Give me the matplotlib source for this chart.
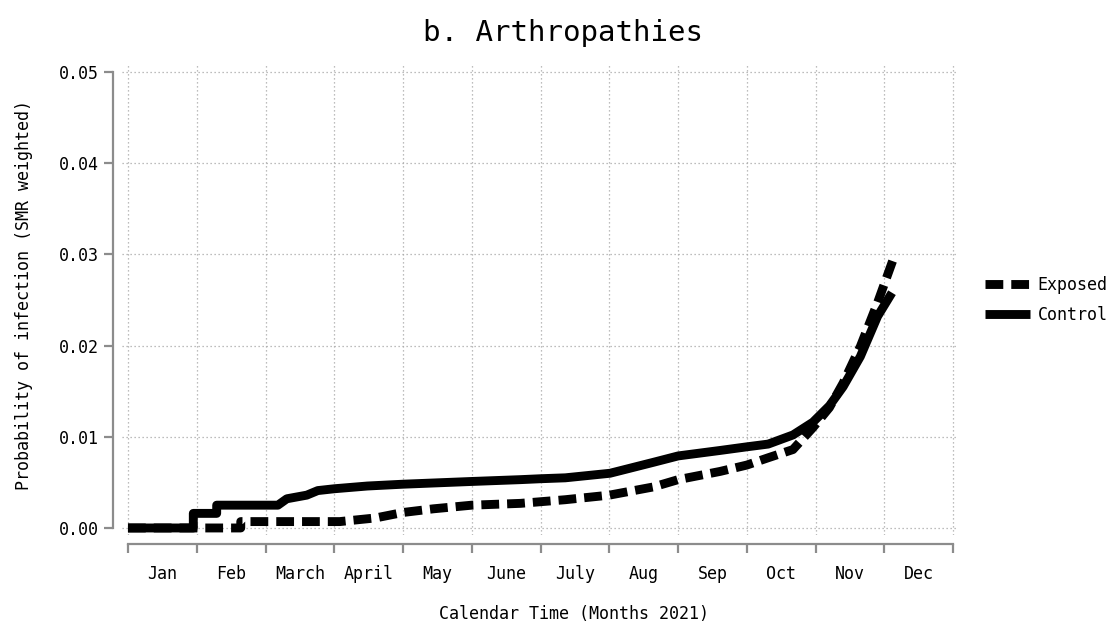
"""Cumulative probability of infection, exposed vs control (arthropathies)."""

import matplotlib
matplotlib.use("Agg")
import matplotlib.pyplot as plt
from matplotlib.lines import Line2D

# month positions (0 = 1 Jan, 12 = end Dec)
MONTHS = ["Jan", "Feb", "March", "April", "May", "June",
          "July", "Aug", "Sep", "Oct", "Nov", "Dec"]

control_x = [0.0, 0.95, 0.95, 1.29, 1.29, 2.18, 2.31, 2.6, 2.76, 3.0, 3.48,
             4.0, 5.0, 5.71, 6.0, 6.36, 7.01, 7.64, 8.0, 8.61, 9.0, 9.31,
             9.67, 9.96, 10.2, 10.4, 10.65, 10.9, 11.11]
control_y = [0.0, 0.0, 0.0016, 0.0016, 0.0025, 0.0025, 0.0032, 0.0036, 0.0041,
             0.0043, 0.0046, 0.0048, 0.0051, 0.0053, 0.0054, 0.0055, 0.0060,
             0.0072, 0.0079, 0.0085, 0.0089, 0.0092, 0.0102, 0.0116, 0.0134,
             0.0155, 0.0188, 0.0232, 0.0258]

exposed_x = [0.0, 1.64, 1.64, 3.08, 3.6, 4.0, 4.44, 5.0, 5.71, 6.36, 7.0,
             7.64, 8.0, 8.61, 9.0, 9.31, 9.67, 9.96, 10.2, 10.4, 10.65, 10.9,
             11.12]
exposed_y = [0.0, 0.0, 0.0007, 0.0007, 0.0011, 0.0017, 0.0021, 0.0025, 0.0027,
             0.0031, 0.0036, 0.0045, 0.0053, 0.0062, 0.0069, 0.0077, 0.0086,
             0.0110, 0.0132, 0.0159, 0.0199, 0.0247, 0.0293]

Y_TICKS = [0.00, 0.01, 0.02, 0.03, 0.04, 0.05]

FONT = "DejaVu Sans Mono"
GREY = "#8c8c8c"


def main():
    plt.rcParams["font.family"] = FONT
    fig = plt.figure(figsize=(11.07, 6.21), dpi=100)
    ax = fig.add_axes([0.1102, 0.1385, 0.7552, 0.7568])

    lw = 6.4
    dash = (0, (2.0, 0.9))
    # snap off so the two lines overlap exactly along the zero baseline
    ax.plot(exposed_x, exposed_y, color="black", lw=lw, linestyle=dash,
            solid_capstyle="butt", dash_capstyle="butt", label="Exposed",
            zorder=2, snap=False, clip_on=False)
    ax.plot(control_x, control_y, color="black", lw=lw,
            solid_capstyle="butt", label="Control", zorder=3, snap=False,
            clip_on=False)

    ax.set_xlim(-0.087, 12.07)
    ax.set_ylim(-0.00077, 0.05077)

    # spines offset SAS-style
    for side in ("top", "right"):
        ax.spines[side].set_visible(False)
    for side in ("left", "bottom"):
        ax.spines[side].set_position(("outward", 6.5))
        ax.spines[side].set_color(GREY)
        ax.spines[side].set_linewidth(1.6)
    ax.spines["left"].set_bounds(0, 0.05)
    ax.spines["bottom"].set_bounds(0, 12)

    ax.set_xticks(range(13))
    ax.set_xticklabels([])
    ax.set_xticks([m + 0.5 for m in range(12)], minor=True)
    ax.set_xticklabels(MONTHS, minor=True, fontsize=12)
    ax.tick_params(axis="x", which="major", length=6.5, width=1.6,
                   color=GREY, direction="out")
    ax.tick_params(axis="x", which="minor", length=0, pad=15)

    ax.set_yticks(Y_TICKS)
    ax.set_yticklabels([f"{v:.2f}" for v in Y_TICKS], fontsize=12)
    ax.tick_params(axis="y", length=6.5, width=1.6, color=GREY,
                   direction="out", pad=4)

    ax.grid(True, which="major", color="#a8a8a8", lw=0.9,
            linestyle=(0, (1, 2.2)), zorder=0)
    ax.set_axisbelow(True)

    ax.set_xlabel("Calendar Time (Months 2021)", fontsize=12)
    ax.xaxis.set_label_coords(0.541, -0.149)
    ax.set_ylabel("Probability of infection (SMR weighted)", fontsize=12)
    ax.yaxis.set_label_coords(-0.106, 0.51)

    fig.text(563 / 1107, 1 - 33 / 621, "b. Arthropathies", fontsize=21,
             ha="center", va="center")

    handles = [
        Line2D([], [], color="black", lw=lw, linestyle=dash,
               dash_capstyle="butt"),
        Line2D([], [], color="black", lw=lw, solid_capstyle="butt"),
    ]
    fig.legend(handles, ["Exposed", "Control"], loc="center left",
               bbox_to_anchor=(985 / 1107, 1 - 300 / 621), frameon=False,
               fontsize=12, handlelength=2.7, handletextpad=0.45,
               labelspacing=0.75, borderpad=0, borderaxespad=0)

    fig.savefig("out.png", dpi=100)


if __name__ == "__main__":
    main()
